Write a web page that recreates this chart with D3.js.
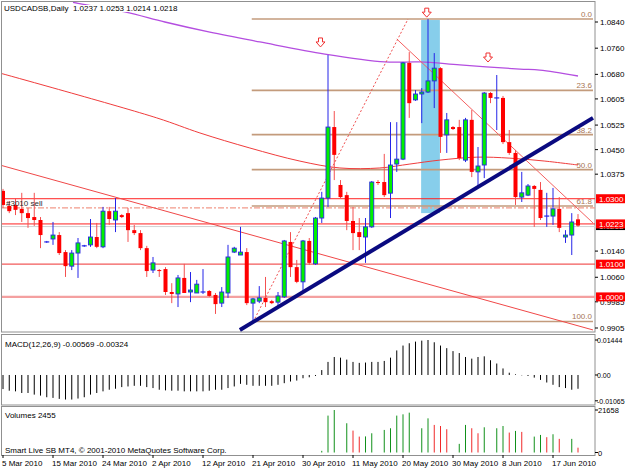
<!DOCTYPE html>
<html>
<head>
<meta charset="utf-8">
<script src="https://d3js.org/d3.v7.min.js"></script>
<style>
  body { margin: 0; background: #fff; }
  svg { display: block; font-family: "Liberation Sans", Arial, sans-serif; }
</style>
</head>
<body>
<div id="chart"></div>
<script>
const W = 625, H = 469;

// ---- data ----
const dateIdx = [0, 8, 16, 24, 32, 40, 48, 56, 64, 72, 80, 88];
const dateLabels = ['5 Mar 2010', '15 Mar 2010', '24 Mar 2010', '2 Apr 2010', '12 Apr 2010', '21 Apr 2010',
  '30 Apr 2010', '11 May 2010', '20 May 2010', '30 May 2010', '8 Jun 2010', '17 Jun 2010'];

const opens = [
  1.0324, 1.0278, 1.0281, 1.0269, 1.0256, 1.0244, 1.0235, 1.0168, 1.0177, 1.0189,
  1.0137, 1.0094, 1.0134, 1.0156, 1.0159, 1.0183, 1.0153, 1.0262, 1.0235, 1.0250,
  1.0256, 1.0204, 1.0195, 1.0149, 1.0082, 1.0082, 1.0085, 1.0015, 1.0009, 1.0058,
  1.0015, 1.0012, 1.0015, 1.0018, 1.0006, 0.9981, 1.0012, 1.0137, 1.0128, 1.0137,
  0.9981, 0.9987, 0.9997, 0.9987, 0.9984, 1.0000, 1.0168, 1.0091, 1.0046, 1.0171,
  1.0101, 1.0241, 1.0302, 1.0519, 1.0342, 1.0311, 1.0232, 1.0198, 1.0183, 1.0214,
  1.0351, 1.0351, 1.0317, 1.0406, 1.0421, 1.0715, 1.0602, 1.0620, 1.0626, 1.0660,
  1.0699, 1.0495, 1.0519, 1.0519, 1.0418, 1.0541, 1.0382, 1.0403, 1.0623, 1.0608,
  1.0608, 1.0473, 1.0440, 1.0305, 1.0311, 1.0339, 1.0327, 1.0247, 1.0247, 1.0269,
  1.0183, 1.0189, 1.0237];
const highs = [
  1.0330, 1.0293, 1.0302, 1.0318, 1.0272, 1.0318, 1.0244, 1.0171, 1.0229, 1.0198,
  1.0143, 1.0143, 1.0180, 1.0159, 1.0238, 1.0226, 1.0275, 1.0275, 1.0302, 1.0253,
  1.0272, 1.0220, 1.0204, 1.0156, 1.0122, 1.0085, 1.0091, 1.0042, 1.0067, 1.0101,
  1.0076, 1.0052, 1.0085, 1.0021, 1.0012, 1.0030, 1.0159, 1.0153, 1.0214, 1.0149,
  0.9997, 1.0033, 1.0061, 0.9991, 1.0015, 1.0174, 1.0198, 1.0113, 1.0174, 1.0180,
  1.0244, 1.0321, 1.0739, 1.0568, 1.0357, 1.0321, 1.0275, 1.0241, 1.0241, 1.0354,
  1.0357, 1.0437, 1.0534, 1.0534, 1.0718, 1.0748, 1.0632, 1.0638, 1.0849, 1.0745,
  1.0702, 1.0562, 1.0522, 1.0541, 1.0547, 1.0571, 1.0458, 1.0626, 1.0626, 1.0678,
  1.0614, 1.0510, 1.0449, 1.0382, 1.0345, 1.0342, 1.0351, 1.0318, 1.0333, 1.0305,
  1.0204, 1.0256, 1.0253];
const lows = [
  1.0272, 1.0256, 1.0250, 1.0229, 1.0211, 1.0217, 1.0149, 1.0165, 1.0159, 1.0128,
  1.0061, 1.0082, 1.0058, 1.0153, 1.0153, 1.0149, 1.0149, 1.0220, 1.0198, 1.0241,
  1.0168, 1.0189, 1.0143, 1.0061, 1.0073, 1.0061, 1.0006, 0.9981, 0.9969, 1.0012,
  0.9984, 1.0012, 1.0009, 1.0000, 0.9948, 0.9969, 0.9997, 1.0134, 1.0128, 0.9975,
  0.9925, 0.9981, 0.9969, 0.9978, 0.9969, 0.9997, 1.0061, 1.0042, 1.0015, 1.0098,
  1.0098, 1.0226, 1.0275, 1.0357, 1.0302, 1.0204, 1.0143, 1.0143, 1.0104, 1.0211,
  1.0342, 1.0305, 1.0241, 1.0382, 1.0418, 1.0547, 1.0599, 1.0531, 1.0623, 1.0577,
  1.0440, 1.0440, 1.0510, 1.0418, 1.0412, 1.0366, 1.0336, 1.0363, 1.0592, 1.0510,
  1.0467, 1.0434, 1.0281, 1.0290, 1.0308, 1.0214, 1.0235, 1.0214, 1.0220, 1.0198,
  1.0165, 1.0128, 1.0214];
const closes = [
  1.0281, 1.0262, 1.0266, 1.0256, 1.0241, 1.0235, 1.0189, 1.0168, 1.0189, 1.0134,
  1.0094, 1.0134, 1.0165, 1.0156, 1.0183, 1.0153, 1.0262, 1.0238, 1.0262, 1.0244,
  1.0204, 1.0195, 1.0149, 1.0079, 1.0104, 1.0079, 1.0015, 1.0009, 1.0058, 1.0012,
  1.0021, 1.0039, 1.0015, 1.0003, 0.9978, 1.0015, 1.0122, 1.0149, 1.0137, 0.9981,
  0.9994, 0.9997, 0.9984, 0.9981, 1.0003, 1.0171, 1.0091, 1.0046, 1.0171, 1.0104,
  1.0241, 1.0302, 1.0519, 1.0434, 1.0305, 1.0232, 1.0195, 1.0183, 1.0214, 1.0351,
  1.0348, 1.0311, 1.0403, 1.0421, 1.0715, 1.0592, 1.0620, 1.0626, 1.0660, 1.0699,
  1.0489, 1.0541, 1.0513, 1.0424, 1.0541, 1.0382, 1.0400, 1.0623, 1.0608, 1.0608,
  1.0473, 1.0440, 1.0305, 1.0318, 1.0339, 1.0330, 1.0241, 1.0247, 1.0269, 1.0211,
  1.0189, 1.0229, 1.0218];

const macdHist = [
  -0.00581, -0.00648, -0.00675, -0.00743, -0.00743, -0.0081, -0.00851, -0.00918, -0.00945, -0.00986,
  -0.01013, -0.01013, -0.00972, -0.00918, -0.0081, -0.00743, -0.00675, -0.00608, -0.00567, -0.005,
  -0.00473, -0.00446, -0.00446, -0.005, -0.0054, -0.00608, -0.00635, -0.00648, -0.00648, -0.00675,
  -0.00675, -0.00675, -0.00675, -0.00648, -0.00608, -0.00608, -0.0054, -0.00473, -0.00365, -0.00405,
  -0.00446, -0.00446, -0.00446, -0.00446, -0.00405, -0.00338, -0.0027, -0.0023, -0.00135, -0.00095,
  -0.0004, 0.00203, 0.0054, 0.00743, 0.00716, 0.00635, 0.0054, 0.005, 0.00513, 0.0054,
  0.0054, 0.0058, 0.00716, 0.01013, 0.01215, 0.0131, 0.01377, 0.01418, 0.01444, 0.0135,
  0.01215, 0.01107, 0.00986, 0.00905, 0.00743, 0.00675, 0.00743, 0.0077, 0.00608, 0.00473,
  0.0027, 0.00095, 0.00027, -0.00014, -0.0004, -0.00108, -0.00203, -0.0031, -0.00405, -0.005,
  -0.0054, -0.00608, -0.00569];

const volumes = [
  0, 0, 0, 0, 0, 0, 0, 0, 0, 0, 0, 0, 0, 0, 0, 0, 0, 0, 0, 0,
  0, 0, 0, 0, 0, 0, 0, 0, 0, 0, 0, 0, 0, 0, 0, 0, 0, 0, 0, 0,
  0, 0, 0, 0, 0, 0, 0, 0, 0, 0, 0, 850, 18800, 21658, 0, 14900, 11150, 8100, 8200, 9800,
  0, 11500, 12350, 18800, 19450, 20300, 0, 12350, 17400, 14050, 13500, 11850, 0, 4400, 14050, 12350,
  9800, 12850, 0, 12350, 13500, 10150, 11000, 10500, 0, 8100, 8950, 7800, 9300, 6950, 0, 6950, 2455];
// 1 = volume up (green), -1 = volume down (red)
const volDir = [
  0, 0, 0, 0, 0, 0, 0, 0, 0, 0, 0, 0, 0, 0, 0, 0, 0, 0, 0, 0,
  0, 0, 0, 0, 0, 0, 0, 0, 0, 0, 0, 0, 0, 0, 0, 0, 0, 0, 0, 0,
  0, 0, 0, 0, 0, 0, 0, 0, 0, 0, 0, 1, 1, 1, 0, 1, -1, -1, 1, 1,
  0, 1, 1, 1, 1, 1, 0, 1, 1, -1, -1, -1, 0, 1, 1, -1,
  -1, 1, 0, 1, 1, -1, 1, -1, 0, 1, 1, -1, 1, -1, 0, 1, -1];

// moving averages (bar index, price) read at points along the lines
const maSlowIdx = [11.2, 12, 19.5, 25.9, 33.1, 41.1, 51.5, 61.1, 66.7, 73.1, 82.7, 85.9, 92];
const maSlowVal = [1.0900, 1.0897, 1.0871, 1.0840, 1.0809, 1.0779, 1.0742, 1.0718, 1.0718, 1.0709, 1.0696, 1.0693, 1.0675];
const maMidIdx = [-0.5, 24.6, 31.5, 39.5, 47.5, 53.9, 60.3, 65.1, 69.9, 75.8, 81.1, 86.7, 92];
const maMidVal = [1.0684, 1.0547, 1.0501, 1.0455, 1.0415, 1.0394, 1.0394, 1.0406, 1.0418, 1.0427, 1.0424, 1.0415, 1.0403];

// drawn objects: [bar index, price]
const trendLong = [[-0.5, 1.0403], [94.4, 0.9899]];
const trendPeak = [[63.0, 1.0788], [94.4, 1.0226]];
const trendSupport = [[37.9, 0.9899], [94.4, 1.0547]];
const fiboDiag = [[40, 0.9923], [64.8, 1.0849]];
const fiboStartIdx = 39.8;
const fiboLevels = ['0.0', '23.6', '38.2', '50.0', '61.8', '100.0'];
const fiboPrices = [1.0849, 1.0631, 1.0496, 1.0389, 1.0278, 0.9925];
const zoneIdx = [66.9, 69.9];
const zonePrice = [1.0846, 1.0256];
const arrowIdx = [50.8, 67.8, 77.6];
const arrowPrice = [1.0776, 1.0867, 1.0730];

const orderLevels = [1.0300, 1.0223, 1.0100, 1.0000];
const sellLevel = 1.0272;
const bidPrice = 1.0218;
const priceTicks = [1.0840, 1.0760, 1.0680, 1.0605, 1.0525, 1.0450, 1.0375, 1.0140, 1.0060, 0.9985, 0.9905];
const macdTicks = [0.01444, 0, -0.01065];
const macdTickLabels = ['0.01444', '0.00', '-0.01065'];
const volTicks = [21658, 0];

// ---- layout ----
const plotR = 595;
const svg = d3.select('#chart').append('svg').attr('width', W).attr('height', H);
svg.append('rect').attr('width', W).attr('height', H).attr('fill', '#fff');

const x = d3.scaleLinear().domain([0, 92]).range([3, 578]);
const y = d3.scaleLinear().domain([0.9905, 1.0840]).range([328, 22]);
const yM = d3.scaleLinear().domain([-0.01065, 0.01444]).range([400.8, 340]);
const yV = d3.scaleLinear().domain([0, 21658]).range([452.5, 410]);

const defs = svg.append('defs');
defs.append('clipPath').attr('id', 'clipMain').append('rect')
  .attr('x', 2).attr('y', 2).attr('width', plotR - 2).attr('height', 330);

// panel frames
[[1.5, 332], [334.5, 405], [406.5, 455.5]].forEach(([t, b]) => {
  svg.append('rect').attr('x', 1.5).attr('y', t).attr('width', plotR - 1.5).attr('height', b - t)
    .attr('fill', 'none').attr('stroke', '#909090');
});

const main = svg.append('g').attr('clip-path', 'url(#clipMain)');

// highlighted zone
main.append('rect')
  .attr('x', x(zoneIdx[0])).attr('width', x(zoneIdx[1]) - x(zoneIdx[0]))
  .attr('y', y(zonePrice[0])).attr('height', y(zonePrice[1]) - y(zonePrice[0]))
  .attr('fill', '#87ceeb');

// fibo levels
fiboPrices.forEach((p, i) => {
  main.append('line')
    .attr('x1', x(fiboStartIdx)).attr('x2', 593)
    .attr('y1', y(p)).attr('y2', y(p))
    .attr('stroke', '#c39b7c').attr('stroke-width', 1.6);
  main.append('text')
    .attr('x', 592).attr('y', y(p) - 2)
    .attr('text-anchor', 'end').attr('font-size', 8).attr('fill', '#a87654')
    .text(fiboLevels[i]);
});

// horizontal order lines
const hStyle = [
  {c: '#ff2020', w: 1}, {c: '#ff2020', w: 1}, {c: '#f25a5a', w: 1.2}, {c: '#f4a0a0', w: 2.2}
];
orderLevels.forEach((p, i) => {
  main.append('line').attr('x1', 2).attr('x2', plotR)
    .attr('y1', y(p)).attr('y2', y(p))
    .attr('stroke', hStyle[i].c).attr('stroke-width', hStyle[i].w);
});
main.append('line').attr('x1', 2).attr('x2', plotR)
  .attr('y1', y(bidPrice) + 1).attr('y2', y(bidPrice) + 1)
  .attr('stroke', '#d0d0d0').attr('stroke-width', 1);
main.append('line').attr('x1', 2).attr('x2', plotR)
  .attr('y1', y(sellLevel)).attr('y2', y(sellLevel))
  .attr('stroke', '#f29a8a').attr('stroke-width', 1.2).attr('stroke-dasharray', '6,2,2,2');

// moving averages
const maLine = d3.line().x(d => x(d[0])).y(d => y(d[1])).curve(d3.curveCatmullRom);
main.append('path').attr('d', maLine(d3.zip(maSlowIdx, maSlowVal)))
  .attr('fill', 'none').attr('stroke', '#b44ee0').attr('stroke-width', 1.3);
main.append('path').attr('d', maLine(d3.zip(maMidIdx, maMidVal)))
  .attr('fill', 'none').attr('stroke', '#f03c3c').attr('stroke-width', 1);

// trend lines behind candles
const seg = d3.line().x(d => x(d[0])).y(d => y(d[1]));
main.append('path').attr('d', seg(trendLong)).attr('stroke', '#f04848').attr('stroke-width', 1).attr('fill', 'none');
main.append('path').attr('d', seg(trendPeak)).attr('stroke', '#f46060').attr('stroke-width', 1).attr('fill', 'none');
main.append('path').attr('d', seg(fiboDiag)).attr('stroke', '#f05050').attr('stroke-width', 1)
  .attr('stroke-dasharray', '2,2').attr('fill', 'none');

// candles
const bars = d3.range(opens.length).map(i => ({
  i, o: opens[i], h: highs[i], l: lows[i], c: closes[i]
}));
const cg = main.selectAll('.candle').data(bars).join('g').attr('class', 'candle');
cg.append('line')
  .attr('x1', d => x(d.i)).attr('x2', d => x(d.i))
  .attr('y1', d => y(d.h)).attr('y2', d => y(d.l))
  .attr('stroke', d => d.c >= d.o ? '#2424e8' : '#f45050').attr('stroke-width', 1);
cg.filter(d => d.c !== d.o).append('rect')
  .attr('x', d => x(d.i) - 2).attr('width', 4)
  .attr('y', d => y(Math.max(d.o, d.c)))
  .attr('height', d => Math.max(1, Math.abs(y(d.o) - y(d.c))))
  .attr('fill', d => d.c > d.o ? '#00f000' : '#ff0000')
  .attr('stroke', d => d.c > d.o ? '#2828e0' : 'none').attr('stroke-width', 0.9);
cg.filter(d => d.c === d.o).append('line')
  .attr('x1', d => x(d.i) - 2.5).attr('x2', d => x(d.i) + 2.5)
  .attr('y1', d => y(d.o)).attr('y2', d => y(d.o))
  .attr('stroke', '#2424e8').attr('stroke-width', 1.2);

// support trend line on top
main.append('path').attr('d', seg(trendSupport)).attr('stroke', '#0a0a80').attr('stroke-width', 4)
  .attr('fill', 'none');

// arrows
const arrowPath = 'M-2,-5L2,-5L2,-1L4.5,-1L0,4L-4.5,-1L-2,-1Z';
arrowIdx.forEach((a, i) => {
  main.append('path').attr('d', arrowPath)
    .attr('transform', `translate(${x(a)},${y(arrowPrice[i])})`)
    .attr('fill', '#fff').attr('stroke', '#f03030').attr('stroke-width', 1);
});

// order label
main.append('text').attr('x', 6).attr('y', y(sellLevel) - 1.5)
  .attr('font-size', 8).attr('fill', '#303030').text('#3010 sell');

// title with background
const title = svg.append('text').attr('x', 4).attr('y', 11).attr('font-size', 8).attr('fill', '#000')
  .attr('xml:space', 'preserve')
  .text('USDCADSB,Daily  1.0237 1.0253 1.0214 1.0218');
const tb = title.node().getBBox();
svg.insert('rect', () => title.node())
  .attr('x', tb.x + 66).attr('y', tb.y + 1).attr('width', tb.width - 66).attr('height', tb.height - 2)
  .attr('fill', '#fff');

// price axis
const axisG = svg.append('g').attr('font-size', 8);
priceTicks.forEach(p => {
  axisG.append('line').attr('x1', plotR).attr('x2', plotR + 3).attr('y1', y(p)).attr('y2', y(p)).attr('stroke', '#000');
  axisG.append('text').attr('x', 600).attr('y', y(p) + 3).attr('fill', '#000').text(p.toFixed(4));
});
// bid box under, order boxes on top
axisG.append('rect').attr('x', 596).attr('y', y(bidPrice) - 4.5).attr('width', 29).attr('height', 9).attr('fill', '#000');
axisG.append('text').attr('x', 599).attr('y', y(bidPrice) + 3).attr('fill', '#fff').text(bidPrice.toFixed(4));
orderLevels.forEach(p => {
  axisG.append('rect').attr('x', 596).attr('y', y(p) - 4.5).attr('width', 29).attr('height', 9).attr('fill', '#ff0000');
  axisG.append('text').attr('x', 599).attr('y', y(p) + 3).attr('fill', '#fff').text(p.toFixed(4));
});

// MACD panel
svg.append('g').selectAll('line').data(macdHist).join('line')
  .attr('x1', (d, i) => x(i)).attr('x2', (d, i) => x(i))
  .attr('y1', yM(0)).attr('y2', d => yM(d))
  .attr('stroke', '#000').attr('stroke-width', 1);
svg.append('text').attr('x', 5).attr('y', 347).attr('font-size', 8).attr('fill', '#000')
  .text('MACD(12,26,9) -0.00569 -0.00324');
macdTicks.forEach((v, i) => {
  svg.append('line').attr('x1', plotR).attr('x2', plotR + 3).attr('y1', yM(v)).attr('y2', yM(v)).attr('stroke', '#000');
  svg.append('text').attr('x', 597).attr('y', yM(v) + 3).attr('font-size', 7).attr('fill', '#000').text(macdTickLabels[i]);
});

// Volume panel
const volIdx = d3.range(volumes.length).filter(i => volumes[i] > 0);
svg.append('g').selectAll('line').data(volIdx).join('line')
  .attr('x1', i => x(i)).attr('x2', i => x(i))
  .attr('y1', yV(0)).attr('y2', i => yV(volumes[i]))
  .attr('stroke', i => volDir[i] > 0 ? '#10901a' : '#f02828').attr('stroke-width', 1);
svg.append('text').attr('x', 5).attr('y', 418).attr('font-size', 8).attr('fill', '#000').text('Volumes 2455');
svg.append('text').attr('x', 5).attr('y', 453).attr('font-size', 8).attr('fill', '#000')
  .text('Smart Live SB MT4, \u00a9 2001-2010 MetaQuotes Software Corp.');
volTicks.forEach(v => {
  svg.append('line').attr('x1', plotR).attr('x2', plotR + 3).attr('y1', yV(v)).attr('y2', yV(v)).attr('stroke', '#000');
  svg.append('text').attr('x', 598).attr('y', yV(v) + 3).attr('font-size', 7.5).attr('fill', '#000').text(v);
});

// date axis
dateIdx.forEach((d, i) => {
  svg.append('line').attr('x1', x(d)).attr('x2', x(d)).attr('y1', 455).attr('y2', 458).attr('stroke', '#000');
  svg.append('text').attr('x', x(d) - 1).attr('y', 466).attr('font-size', 8).attr('fill', '#000').text(dateLabels[i]);
});
</script>
</body>
</html>
